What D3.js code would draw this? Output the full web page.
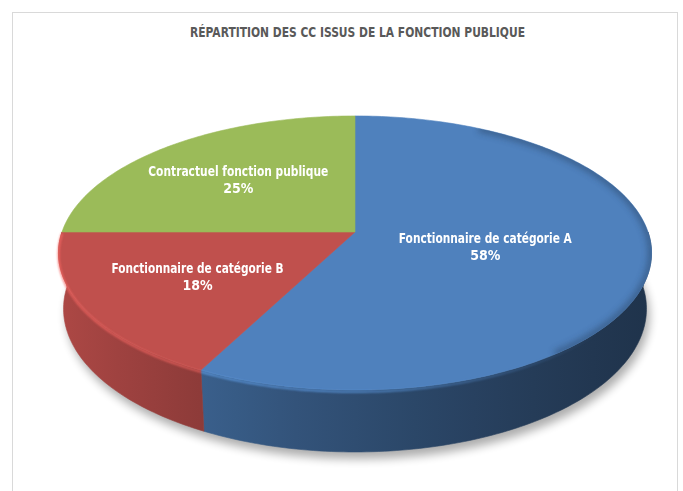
<!DOCTYPE html>
<html>
<head>
<meta charset="utf-8">
<script src="https://cdn.jsdelivr.net/npm/d3@7"></script>
<style>
	body { margin: 0; background: #fff; }
	svg { display: block; }
	text { font-family: 'Liberation Sans Narrow', 'DejaVu Sans Condensed', Lato, sans-serif; font-weight: bold; }
</style>
</head>
<body>
<script>
// data (40 CC in total)
var categories = ["Fonctionnaire de catégorie A", "Fonctionnaire de catégorie B", "Contractuel fonction publique"];
var counts = [23, 7, 10];
var colors = ["#4F81BD", "#C0504D", "#9BBB59"];
var title = "RÉPARTITION DES CC ISSUS DE LA FONCTION PUBLIQUE";

var width = 683, height = 491;

// perspective of the 3d pie
var params = {
	cx: 355, cy: 232,
	sinPhi: 0.4567,
	dist: 5.805,
	focal: 1701,
	depth: 0.2155
};
params.cosPhi = Math.sqrt(1 - params.sinPhi*params.sinPhi);

// theta: clockwise from the back of the disc, rho: 0..1, y: 0 on top, negative below
function proj(theta, rho, y){
	var X = rho*Math.sin(theta), Z = -rho*Math.cos(theta);
	var d = params.dist - (y*params.sinPhi + Z*params.cosPhi);
	var up = y*params.cosPhi - Z*params.sinPhi;
	return [params.cx + params.focal*X/d, params.cy - params.focal*up/d];
}

function arcPoints(a0, a1, y){
	var n = Math.max(2, Math.ceil((a1 - a0)/(Math.PI/180)));
	return d3.range(n + 1).map(function(i){ return proj(a0 + (a1 - a0)*i/n, 1, y); });
}

var line = d3.line();

var svg = d3.select("body").append("svg")
	.attr("width", width)
	.attr("height", height);

var defs = svg.append("defs");
defs.append("filter").attr("id", "blurShadow")
	.attr("x", "-20%").attr("y", "-20%").attr("width", "140%").attr("height", "140%")
	.append("feGaussianBlur").attr("stdDeviation", 5);
defs.append("filter").attr("id", "blurRim")
	.attr("x", "-10%").attr("y", "-10%").attr("width", "120%").attr("height", "120%")
	.append("feGaussianBlur").attr("stdDeviation", 1);
defs.append("filter").attr("id", "blurEdge")
	.attr("x", "-20%").attr("y", "-20%").attr("width", "140%").attr("height", "140%")
	.append("feGaussianBlur").attr("stdDeviation", 3);

// chart frame
svg.append("rect")
	.attr("x", 12.5).attr("y", 12.5)
	.attr("width", 665).attr("height", 500)
	.style("fill", "none")
	.style("stroke", "#d9d9d9");

svg.append("text")
	.attr("x", 357.5).attr("y", 37)
	.attr("text-anchor", "middle")
	.attr("textLength", 335)
	.attr("lengthAdjust", "spacingAndGlyphs")
	.style("font-size", "14px")
	.style("fill", "#595959")
	.text(title);

var total = d3.sum(counts);
var pie = d3.pie().sort(null).value(function(d){ return d; });
var slices = pie(counts).map(function(d, i){
	d.name = categories[i];
	d.color = colors[i];
	d.pct = Math.round(d.value*100/total) + "%";
	return d;
});

// soft shadow below the pie
var bottom = arcPoints(0, 2*Math.PI, -params.depth);
svg.append("path")
	.attr("d", line(bottom) + "Z")
	.attr("transform", "translate(3,7)")
	.style("fill", "#000")
	.style("opacity", 0.32)
	.attr("filter", "url(#blurShadow)");

// side walls, only the front half is visible
var shadeX = d3.scaleLinear().domain([58, 652]).range([0.3, 2.6]);
var front0 = Math.PI/2, front1 = 3*Math.PI/2;

slices.forEach(function(d, i){
	var a0 = Math.max(d.startAngle, front0), a1 = Math.min(d.endAngle, front1);
	if (a1 <= a0) return;
	var grad = defs.append("linearGradient")
		.attr("id", "wall" + i)
		.attr("gradientUnits", "userSpaceOnUse")
		.attr("x1", 58).attr("x2", 652).attr("y1", 0).attr("y2", 0);
	d3.range(0, 1.0001, 0.1).forEach(function(t){
		var x = 58 + t*(652 - 58);
		grad.append("stop")
			.attr("offset", t)
			.attr("stop-color", d3.color(d.color).darker(shadeX(x)).formatHex());
	});
	var top = arcPoints(a0, a1, 0);
	var bot = arcPoints(a0, a1, -params.depth).reverse();
	svg.append("path")
		.attr("class", "wall")
		.attr("d", line(top.concat(bot)) + "Z")
		.style("fill", "url(#wall" + i + ")")
		.style("stroke", "url(#wall" + i + ")")
		.style("stroke-width", 0.6);
});

// top faces
var topFaces = svg.append("g").attr("class", "tops");
slices.forEach(function(d){
	var pts = [proj(0, 0, 0)].concat(arcPoints(d.startAngle, d.endAngle, 0));
	topFaces.append("path")
		.attr("d", line(pts) + "Z")
		.style("fill", d.color)
		.style("stroke", d.color)
		.style("stroke-width", 0.6);
});

// bevel: darker soft edge on the top rim (right side), clipped to the top face
defs.append("clipPath").attr("id", "topClip")
	.append("path").attr("d", line(arcPoints(0, 2*Math.PI, 0)) + "Z");
var bevel = svg.append("g").attr("clip-path", "url(#topClip)");
slices.forEach(function(d){
	var a0 = Math.max(d.startAngle, 0.5), a1 = Math.min(d.endAngle, 2.5);
	if (a1 <= a0) return;
	bevel.append("path")
		.attr("d", line(arcPoints(a0, a1, 0)))
		.style("fill", "none")
		.style("stroke", d3.color(d.color).darker(1.5))
		.style("stroke-width", 7)
		.style("opacity", 0.6)
		.attr("filter", "url(#blurEdge)");
});

// light rim on the front-left edge, fading towards the right
var rimGrad = defs.append("linearGradient")
	.attr("id", "rimFade")
	.attr("gradientUnits", "userSpaceOnUse")
	.attr("x1", 58).attr("x2", 600).attr("y1", 0).attr("y2", 0);
rimGrad.append("stop").attr("offset", 0).attr("stop-color", "#fff").attr("stop-opacity", 1);
rimGrad.append("stop").attr("offset", 0.55).attr("stop-color", "#fff").attr("stop-opacity", 0.8);
rimGrad.append("stop").attr("offset", 1).attr("stop-color", "#fff").attr("stop-opacity", 0);
defs.append("mask").attr("id", "rimMask")
	.append("rect").attr("width", width).attr("height", height)
	.style("fill", "url(#rimFade)");

var rims = svg.append("g").attr("mask", "url(#rimMask)");
slices.forEach(function(d){
	var a0 = Math.max(d.startAngle, 2.3), a1 = Math.min(d.endAngle, front1);
	if (a1 <= a0) return;
	rims.append("path")
		.attr("d", line(arcPoints(a0, a1, -0.006)))
		.style("fill", "none")
		.style("stroke", d3.color(d.color).brighter(0.7))
		.style("stroke-width", 2)
		.style("opacity", 0.85)
		.attr("filter", "url(#blurRim)");
});

// labels
var labelWidth = [173, 172, 180];
slices.forEach(function(d, i){
	var mid = (d.startAngle + d.endAngle)/2;
	var rho = (d.endAngle - d.startAngle) > Math.PI ? 0.45 : 0.6;
	var p = proj(mid, rho, 0);
	var g = svg.append("g").attr("class", "label");
	g.append("text")
		.attr("x", p[0]).attr("y", p[1] - 3)
		.attr("text-anchor", "middle")
		.attr("textLength", labelWidth[i])
		.attr("lengthAdjust", "spacingAndGlyphs")
		.style("font-size", "14px")
		.style("fill", "#fff")
		.text(d.name);
	g.append("text")
		.attr("x", p[0]).attr("y", p[1] + 14)
		.attr("text-anchor", "middle")
		.style("font-size", "14px")
		.style("fill", "#fff")
		.text(d.pct);
});
</script>
</body>
</html>
